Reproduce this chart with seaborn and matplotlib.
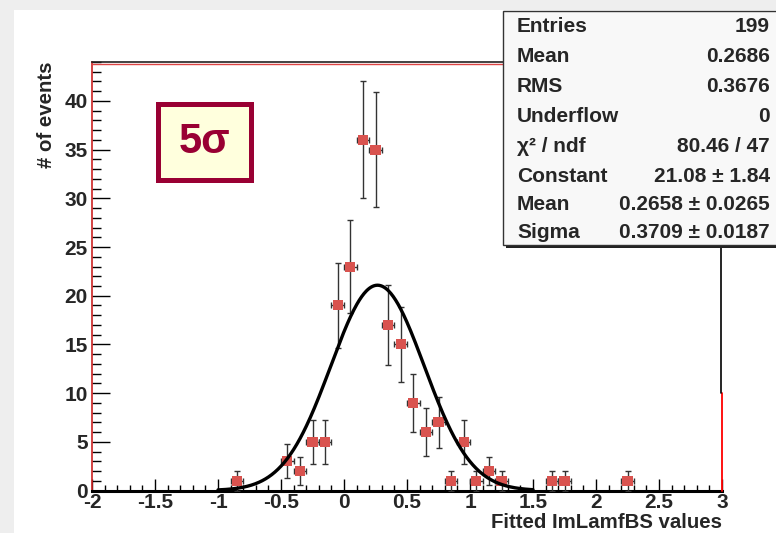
import numpy as np
import pandas as pd
import matplotlib
matplotlib.use("Agg")
import matplotlib.pyplot as plt
from matplotlib.patches import Rectangle
from matplotlib.ticker import MultipleLocator, FuncFormatter
import seaborn as sns

# ---- data ----
bin_centers = [-0.85, -0.45, -0.35, -0.25, -0.15, -0.05, 0.05, 0.15, 0.25, 0.35, 0.45,
               0.55, 0.65, 0.75, 0.85, 0.95, 1.05, 1.15, 1.25, 1.65, 1.75, 2.25]
counts = [1, 3, 2, 5, 5, 19, 23, 36, 35, 17, 15, 9, 6, 7, 1, 5, 1, 2, 1, 1, 1, 1]
bin_half_width = 0.05

fit_constant = 21.08
fit_mean = 0.2658
fit_sigma = 0.3709
fit_range = (-1.0, 1.5)

stats_labels = ["Entries", "Mean", "RMS", "Underflow", "\u03c7\u00b2 / ndf", "Constant", "Mean", "Sigma"]
stats_values = ["199", "0.2686", "0.3676", "0", "80.46 / 47", "21.08 \u00b1 1.84",
                "0.2658 \u00b1 0.0265", "0.3709 \u00b1 0.0187"]

x_label = "Fitted ImLamfBS values"
y_label = "# of events"
badge_text = "5\u03c3"

# ---- figure setup ----
sns.set_style("white")
plt.rcParams['font.family'] = ['Liberation Sans', 'DejaVu Sans']
plt.rcParams['font.weight'] = 'bold'

W, H = 776, 533
fig = plt.figure(figsize=(W / 100, H / 100), dpi=100, facecolor="#eeeeee")

def fx(px):
    return px / W

def fy(py):
    return 1 - py / H

# white canvas
fig.patches.append(Rectangle((fx(14), 0), 1 - fx(14), fy(10), transform=fig.transFigure,
                             facecolor="white", edgecolor="none", zorder=-5))

ax_left, ax_right, ax_top, ax_bottom = 92, 722, 62, 490.5
ax = fig.add_axes([fx(ax_left), fy(ax_bottom), fx(ax_right - ax_left), (ax_bottom - ax_top) / H])
ax.set_facecolor("white")

df = pd.DataFrame({"x": bin_centers, "n": counts})
df["err"] = np.sqrt(df["n"])

ax.errorbar(df["x"], df["n"], xerr=bin_half_width, yerr=df["err"], fmt="none",
            ecolor="#333333", elinewidth=1.0, capsize=2.2, capthick=1.0, zorder=3)
sns.scatterplot(data=df, x="x", y="n", marker="s", s=52, color="#d9534f",
                edgecolor="none", ax=ax, zorder=4, legend=False)

xf = np.linspace(fit_range[0], fit_range[1], 400)
fit_df = pd.DataFrame({"x": xf,
                       "y": fit_constant * np.exp(-0.5 * ((xf - fit_mean) / fit_sigma) ** 2)})
sns.lineplot(data=fit_df, x="x", y="y", color="black", linewidth=2.4, ax=ax, zorder=5)

ax.set_xlim(-2, 3)
ax.set_ylim(0, 44)

ax.xaxis.set_major_locator(MultipleLocator(0.5))
ax.xaxis.set_minor_locator(MultipleLocator(0.1))
ax.yaxis.set_major_locator(MultipleLocator(5))
ax.yaxis.set_minor_locator(MultipleLocator(1))
ax.xaxis.set_major_formatter(FuncFormatter(lambda v, p: f"{v:g}"))
ax.yaxis.set_major_formatter(FuncFormatter(lambda v, p: f"{v:g}"))

ax.tick_params(axis="x", which="major", direction="in", length=8.6, width=1.0, color="black",
               labelsize=15, pad=1.5, top=False, bottom=True)
ax.tick_params(axis="x", which="minor", direction="in", length=4.3, width=1.0, color="black",
               top=False, bottom=True)
ax.tick_params(axis="y", which="major", direction="in", length=13, width=1.0, color="black",
               labelsize=15, pad=3, left=True, right=False)
ax.tick_params(axis="y", which="minor", direction="in", length=6.5, width=1.0, color="black",
               left=True, right=False)
for lab in ax.get_xticklabels() + ax.get_yticklabels():
    lab.set_fontweight("bold")

ax.set_xlabel("")
ax.set_ylabel("")

for s in ["left", "top", "right", "bottom"]:
    ax.spines[s].set_visible(True)
ax.spines["left"].set_color("#cc2222")
ax.spines["left"].set_linewidth(1.2)
ax.spines["bottom"].set_color("black")
ax.spines["bottom"].set_linewidth(2.2)
ax.spines["top"].set_color("#222222")
ax.spines["top"].set_linewidth(1.2)
ax.spines["right"].set_visible(False)
# red frame line just below the top spine, and the right edge
ax.plot([0, 1], [0.995, 0.995], transform=ax.transAxes, color="#dd4444", lw=1.0, clip_on=False, zorder=6)
ax.plot([3, 3], [0, 10], color="red", lw=1.3, clip_on=False, zorder=6)
ax.plot([2.996, 2.996], [10, 44], color="black", lw=1.2, clip_on=False, zorder=6)

# axis titles
fig.text(fx(722), fy(523), x_label, ha="right", va="center", fontsize=14.7, fontweight="bold")
fig.text(fx(47), fy(62), y_label, ha="center", va="top", rotation=90, fontsize=14.7, fontweight="bold")

# 5 sigma badge
fig.patches.append(Rectangle((fx(157.5), fy(179.5)), fx(250.5 - 157.5), (179.5 - 104) / H,
                             transform=fig.transFigure, facecolor="#ffffdd", edgecolor="#990033",
                             linewidth=3.6, zorder=5))
fig.text(fx(204), fy(142), badge_text, ha="center", va="center", fontsize=30,
         fontweight="bold", color="#990033", zorder=6)

# stats box with shadow
bx0, by0, bx1, by1 = 503, 11, 777, 245
fig.patches.append(Rectangle((fx(bx0 + 3), fy(by1 + 3)), fx(bx1 - bx0), (by1 - by0) / H,
                             transform=fig.transFigure, facecolor="#222222", edgecolor="none", zorder=7))
fig.patches.append(Rectangle((fx(bx0), fy(by1)), fx(bx1 - bx0), (by1 - by0) / H,
                             transform=fig.transFigure, facecolor="#f8f8f8", edgecolor="#333333",
                             linewidth=1.0, zorder=8))
row_y = [27, 57, 87, 116, 146, 176, 204, 232]
for lab, val, yy in zip(stats_labels, stats_values, row_y):
    fig.text(fx(517), fy(yy), lab, ha="left", va="center", fontsize=15, fontweight="bold", zorder=9)
    fig.text(fx(770), fy(yy), val, ha="right", va="center", fontsize=15, fontweight="bold", zorder=9)

fig.savefig("out.png", dpi=100, facecolor=fig.get_facecolor())
